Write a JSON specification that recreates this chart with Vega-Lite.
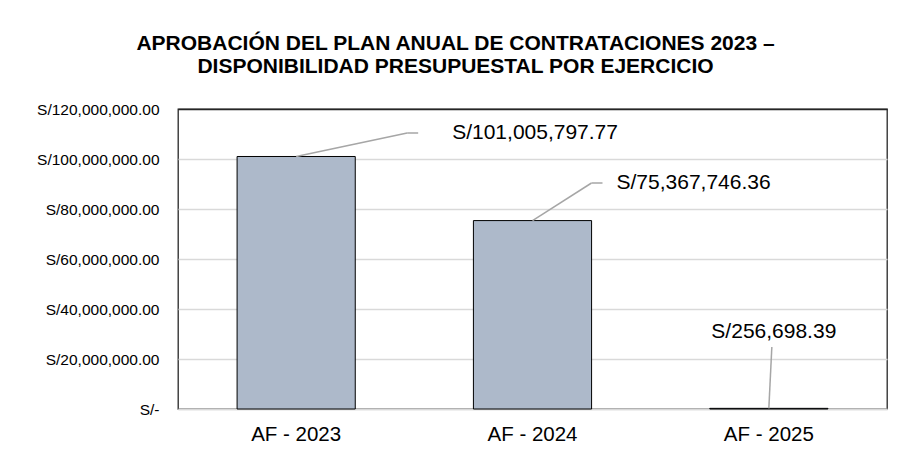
{
  "$schema": "https://vega.github.io/schema/vega-lite/v6.json",
  "width": 709,
  "height": 300,
  "autosize": {"type": "none"},
  "padding": {"left": 178, "top": 109, "right": 20, "bottom": 55},
  "background": "white",
  "config": {
    "locale": {"number": {"decimal": ".", "thousands": ",", "grouping": [3], "currency": ["S/", ""]}},
    "font": "Liberation Sans",
    "view": {"stroke": "#262626", "strokeWidth": 1.3}
  },
  "title": {
    "text": ["APROBACIÓN DEL PLAN ANUAL DE CONTRATACIONES 2023 –", "DISPONIBILIDAD PRESUPUESTAL POR EJERCICIO"],
    "font": "Liberation Sans",
    "fontSize": 21,
    "fontWeight": "bold",
    "color": "black",
    "anchor": "middle",
    "dx": -77,
    "lineHeight": 23,
    "offset": 25
  },
  "data": {
    "values": [
      {"cat": "AF - 2023", "value": 101005797.77},
      {"cat": "AF - 2024", "value": 75367746.36},
      {"cat": "AF - 2025", "value": 256698.39}
    ]
  },
  "encoding": {
    "x": {
      "field": "cat",
      "type": "nominal",
      "sort": null,
      "scale": {"paddingInner": 0.5, "paddingOuter": 0.25},
      "axis": {
        "title": null,
        "labelAngle": 0,
        "labelFontSize": 20.5,
        "labelColor": "black",
        "labelPadding": 15,
        "ticks": false,
        "domainColor": "#d9d9d9",
        "domainWidth": 1.5
      }
    },
    "y": {
      "field": "value",
      "type": "quantitative",
      "scale": {"domain": [0, 120000000]},
      "axis": {
        "title": null,
        "values": [0, 20000000, 40000000, 60000000, 80000000, 100000000, 120000000],
        "labelExpr": "datum.value === 0 ? 'S/-' : 'S/' + format(datum.value, ',.2f')",
        "labelFontSize": 15.5,
        "labelColor": "black",
        "labelPadding": 19,
        "ticks": false,
        "domain": false,
        "gridColor": {"condition": {"test": "datum.value === 120000000", "value": "#262626"}, "value": "#d9d9d9"},
        "gridWidth": 1.5
      }
    }
  },
  "layer": [
    {
      "mark": {"type": "bar", "fill": "#ADB9CA", "stroke": "black", "strokeWidth": 1}
    },
    {
      "transform": [{"filter": "datum.cat === 'AF - 2023'"}],
      "layer": [
        {"mark": {"type": "rule", "color": "#a6a6a6", "strokeWidth": 1.5, "x2Offset": 111},
         "encoding": {"x2": {"field": "cat"}, "y2": {"datum": 110400000}}},
        {"mark": {"type": "rule", "color": "#a6a6a6", "strokeWidth": 1.5, "xOffset": 111, "x2Offset": 122},
         "encoding": {"x2": {"field": "cat"}, "y": {"datum": 110400000}}},
        {"mark": {"type": "text", "align": "left", "baseline": "middle", "fontSize": 21, "dx": 156, "color": "black"},
         "encoding": {"y": {"datum": 110400000}, "text": {"field": "value", "format": "$,.2f"}}}
      ]
    },
    {
      "transform": [{"filter": "datum.cat === 'AF - 2024'"}],
      "layer": [
        {"mark": {"type": "rule", "color": "#a6a6a6", "strokeWidth": 1.5, "x2Offset": 59},
         "encoding": {"x2": {"field": "cat"}, "y2": {"datum": 90400000}}},
        {"mark": {"type": "rule", "color": "#a6a6a6", "strokeWidth": 1.5, "xOffset": 59, "x2Offset": 70},
         "encoding": {"x2": {"field": "cat"}, "y": {"datum": 90400000}}},
        {"mark": {"type": "text", "align": "left", "baseline": "middle", "fontSize": 21, "dx": 84, "color": "black"},
         "encoding": {"y": {"datum": 90400000}, "text": {"field": "value", "format": "$,.2f"}}}
      ]
    },
    {
      "transform": [{"filter": "datum.cat === 'AF - 2025'"}],
      "layer": [
        {"mark": {"type": "rule", "color": "#a6a6a6", "strokeWidth": 1.5, "x2Offset": 3},
         "encoding": {"x2": {"field": "cat"}, "y2": {"datum": 24800000}}},
        {"mark": {"type": "text", "align": "center", "baseline": "middle", "fontSize": 21, "dx": 5, "color": "black"},
         "encoding": {"y": {"datum": 30800000}, "text": {"field": "value", "format": "$,.2f"}}}
      ]
    }
  ]
}
